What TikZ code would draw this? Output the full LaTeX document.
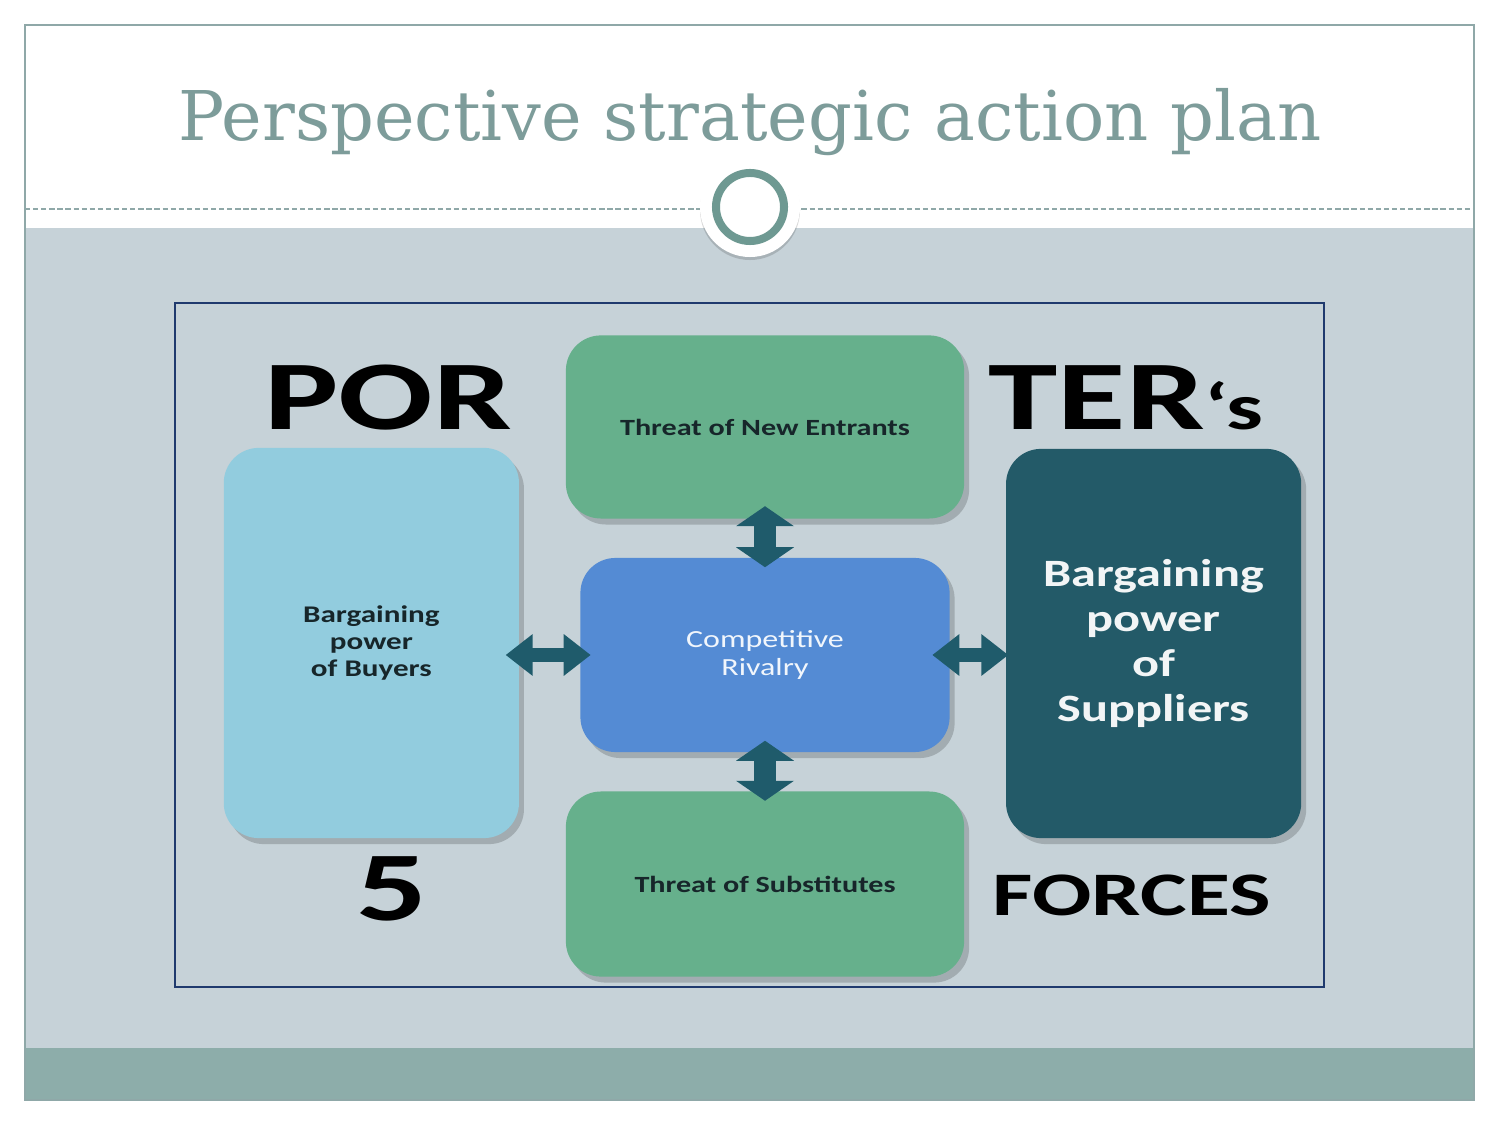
\documentclass[tikz,border=0pt]{standalone}
\usepackage{fontspec}
\setmainfont{DejaVu Serif}
\newfontfamily\forcefont[FakeStretch=1.3]{Carlito}
\newfontfamily\headfont[FakeStretch=1.42]{Carlito}
\usetikzlibrary{arrows.meta, positioning, shadows}
\usepackage{xcolor}
\definecolor{SlideBg}{HTML}{C6D2D8}
\definecolor{BandTeal}{HTML}{8DADAA}
\definecolor{FrameGrey}{HTML}{8FA8A8}
\definecolor{TitleTeal}{HTML}{7D9C9A}
\definecolor{RingTeal}{HTML}{6E9992}
\definecolor{PicFrame}{HTML}{1F3A6E}
\definecolor{EntrantGreen}{HTML}{66B08C}
\definecolor{BuyerBlue}{HTML}{92CCDE}
\definecolor{SupplierTeal}{HTML}{235A68}
\definecolor{RivalBlue}{HTML}{548BD4}
\definecolor{ArrowTeal}{HTML}{1F5B6B}
\definecolor{LabelDark}{HTML}{17262A}

\begin{document}
\begin{tikzpicture}[
            x=0.01cm, y=-0.01cm,
            forcebox/.style={rectangle, rounded corners=0.35cm, inner sep=0pt, align=center,
                drop shadow={shadow xshift=0.05cm, shadow yshift=-0.06cm, fill=black, opacity=0.18}},
            bigword/.style={inner sep=0pt, font=\headfont\bfseries\fontsize{28}{30}\selectfont},
            vtwoway/.style={{Triangle[width=0.57cm, length=0.2cm]}-{Triangle[width=0.57cm, length=0.2cm]}, line width=0.22cm, color=ArrowTeal},
            htwoway/.style={{Triangle[width=0.40cm, length=0.27cm]}-{Triangle[width=0.40cm, length=0.27cm]}, line width=0.13cm, color=ArrowTeal}
        ]
            % slide background
            \useasboundingbox (0,0) rectangle (1500,1125);
            \fill[white] (0,0) rectangle (1500,1125);
            \fill[SlideBg] (25,228) rectangle (1474,1048);
            \fill[BandTeal] (25,1048) rectangle (1474,1100);
            \draw[FrameGrey, line width=0.6pt] (25,25) rectangle (1474,1100);
            \draw[FrameGrey, dash pattern=on 1.5pt off 0.8pt, line width=0.3pt] (25,209) -- (1474,209);
            \node[anchor=base, inner sep=0pt, text=TitleTeal, font=\fontsize{19.5}{22}\selectfont] (title) at (750,141) {Perspective strategic action plan};

            % title ornament
            \node[circle, fill=white, minimum size=1cm, inner sep=0pt,
                drop shadow={shadow xshift=0cm, shadow yshift=-0.03cm, fill=black, opacity=0.15}] (knob) at (750,207) {};
            \draw[RingTeal, line width=0.08cm] (knob.center) circle (0.34cm);

            % picture frame
            \draw[PicFrame, line width=0.6pt] (175,303) rectangle (1324,987);

            % the five forces
            \node[forcebox, fill=RivalBlue, minimum width=3.69cm, minimum height=1.94cm,
                text=white!92!RivalBlue, font=\forcefont\fontsize{7}{8.2}\selectfont] (rivalry) at (765,655) {Competitive\\Rivalry};
            \node[forcebox, fill=EntrantGreen, minimum width=3.98cm, minimum height=1.83cm,
                text=LabelDark, font=\forcefont\bfseries\fontsize{6.6}{8}\selectfont, above=0.38cm of rivalry] (entrants) {Threat of New Entrants};
            \node[forcebox, fill=EntrantGreen, minimum width=3.98cm, minimum height=1.85cm,
                text=LabelDark, font=\forcefont\bfseries\fontsize{6.6}{8}\selectfont, below=0.38cm of rivalry] (substitutes) {Threat of Substitutes};
            \node[forcebox, fill=BuyerBlue, minimum width=2.95cm, minimum height=3.9cm,
                text=LabelDark, font=\forcefont\bfseries\fontsize{6.8}{7.7}\selectfont, left=0.6cm of rivalry, yshift=0.12cm] (buyers) {Bargaining\\power\\of Buyers};
            \node[forcebox, fill=SupplierTeal, minimum width=2.95cm, minimum height=3.89cm,
                text=white!94!SupplierTeal, font=\forcefont\bfseries\fontsize{11}{12.8}\selectfont, right=0.55cm of rivalry, yshift=0.115cm] (suppliers) {Bargaining\\power\\of\\Suppliers};

            % heading words
            \node[bigword, anchor=base] (por) at (388,430) {POR};
            \node[bigword, anchor=base west] (ters) at (988,430) {TER{\fontsize{18.5}{20}\selectfont‘s}};
            \node[bigword, anchor=base] (five) at (392,920) {5};
            \node[bigword, anchor=base west, font=\headfont\bfseries\fontsize{17.6}{20}\selectfont] (forces) at (992,915) {FORCES};

            % two-way arrows
            \draw[vtwoway, shorten <=-0.13cm, shorten >=-0.10cm] (entrants.south) -- (rivalry.north);
            \draw[vtwoway, shorten <=-0.12cm, shorten >=-0.10cm] (rivalry.south) -- (substitutes.north);
            \draw[htwoway, shorten <=-0.14cm, shorten >=-0.11cm] (buyers.east |- rivalry.center) -- (rivalry.west);
            \draw[htwoway, shorten <=-0.18cm, shorten >=-0.03cm] (rivalry.east) -- (suppliers.west |- rivalry.center);
        \end{tikzpicture}
\end{document}
